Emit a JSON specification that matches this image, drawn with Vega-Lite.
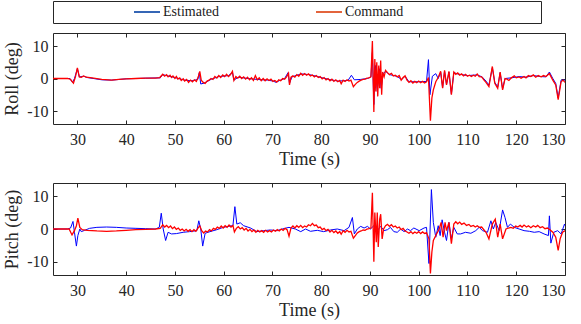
{
  "$schema": "https://vega.github.io/schema/vega-lite/v6.json",
  "padding": {"left": 3, "top": 0, "right": 0, "bottom": 0},
  "background": "white",
  "config": {
    "font": "Liberation Serif",
    "view": {"stroke": "#262626", "strokeWidth": 1},
    "axis": {"grid": false, "domain": false, "labelFont": "Liberation Serif", "titleFont": "Liberation Serif", "labelFontSize": 16, "titleFontSize": 18, "titleFontWeight": "normal", "labelColor": "#262626", "titleColor": "#262626", "tickColor": "#262626", "tickSize": -4, "minExtent": 0}
  },
  "datasets": {
    "legend": [{"s": "Estimated"}, {"s": "Command"}],
    "rollE": [{"t":25,"v":0},{"t":28.5,"v":0},{"t":29.0,"v":-1.2},{"t":29.4,"v":0},{"t":30.0,"v":3.0},{"t":30.4,"v":0.5},{"t":31.3,"v":0.7},{"t":32,"v":0.3},{"t":35,"v":-0.4},{"t":37,"v":-0.5},{"t":40,"v":-0.1},{"t":44,"v":0.1},{"t":47,"v":0.2},{"t":47.5,"v":1.2},{"t":48.5,"v":0.8},{"t":50,"v":0.3},{"t":52,"v":-0.5},{"t":53.5,"v":-0.7},{"t":54.7,"v":-0.3},{"t":55.0,"v":1.8},{"t":55.3,"v":-1.7},{"t":56.0,"v":-1.4},{"t":57.5,"v":-0.2},{"t":59,"v":0.6},{"t":61,"v":0.9},{"t":61.8,"v":1.9},{"t":62.1,"v":-0.5},{"t":63,"v":0.4},{"t":65,"v":0},{"t":67,"v":-0.3},{"t":69,"v":-0.5},{"t":70.2,"v":-0.8},{"t":70.7,"v":-1.2},{"t":71.5,"v":-0.6},{"t":72.5,"v":0},{"t":73.2,"v":1.8},{"t":73.5,"v":-1.5},{"t":74,"v":0.5},{"t":75,"v":1.0},{"t":76,"v":1.4},{"t":77.5,"v":1.2},{"t":79,"v":0.7},{"t":80.5,"v":0.1},{"t":82,"v":-0.4},{"t":83.5,"v":-0.8},{"t":84.5,"v":-0.7},{"t":85.5,"v":-0.6},{"t":86.2,"v":1.0},{"t":86.8,"v":-0.4},{"t":88,"v":-0.3},{"t":89.5,"v":0},{"t":90.2,"v":0.5},{"t":90.5,"v":8},{"t":90.8,"v":-8},{"t":91.1,"v":4},{"t":91.5,"v":-4},{"t":91.9,"v":3},{"t":92.3,"v":-3},{"t":92.7,"v":1.5},{"t":93.2,"v":2.2},{"t":94,"v":1.2},{"t":95.5,"v":0.7},{"t":96.5,"v":-0.3},{"t":97.2,"v":0.7},{"t":98,"v":-1},{"t":100,"v":-1},{"t":101.6,"v":-0.9},{"t":102.0,"v":5.8},{"t":102.3,"v":-5},{"t":102.8,"v":0.7},{"t":103.5,"v":1.5},{"t":104.0,"v":0},{"t":104.5,"v":2.0},{"t":104.9,"v":-2.8},{"t":105.3,"v":2.3},{"t":105.7,"v":-1.8},{"t":106.2,"v":2.0},{"t":106.7,"v":-4.8},{"t":107.2,"v":1.8},{"t":108,"v":1.4},{"t":110,"v":0.9},{"t":112,"v":1.1},{"t":113,"v":0.5},{"t":113.8,"v":-0.8},{"t":114.4,"v":-2},{"t":115.1,"v":3.3},{"t":115.6,"v":-1.2},{"t":116.2,"v":-2.6},{"t":116.7,"v":1.8},{"t":117.2,"v":-3.2},{"t":117.7,"v":0},{"t":119,"v":0.2},{"t":120.6,"v":0.6},{"t":122,"v":0.4},{"t":123.5,"v":0.9},{"t":125,"v":0.6},{"t":126.1,"v":0.5},{"t":126.8,"v":2.0},{"t":127.5,"v":0},{"t":128.1,"v":-1.5},{"t":128.6,"v":-6},{"t":129.2,"v":-0.5},{"t":130,"v":-0.5}],
    "rollC": [{"t":25,"v":0},{"t":28,"v":0},{"t":28.6,"v":-0.3},{"t":29.2,"v":-1.4},{"t":29.6,"v":0.5},{"t":30.0,"v":3.3},{"t":30.4,"v":0.5},{"t":30.8,"v":0.4},{"t":31.3,"v":0.8},{"t":31.8,"v":0.4},{"t":33,"v":0.2},{"t":35,"v":-0.3},{"t":37,"v":-0.5},{"t":38.5,"v":-0.3},{"t":40,"v":-0.1},{"t":42,"v":0},{"t":44,"v":0.1},{"t":46,"v":0.1},{"t":46.9,"v":0.3},{"t":47.5,"v":1.3},{"t":47.9,"v":0.7},{"t":48.3,"v":1.2},{"t":48.6,"v":0.5},{"t":49.0,"v":1.0},{"t":49.3,"v":0.3},{"t":49.6,"v":0.8},{"t":50.0,"v":0},{"t":50.3,"v":0.6},{"t":50.6,"v":-0.2},{"t":51.0,"v":0.2},{"t":51.3,"v":-0.6},{"t":51.7,"v":-0.1},{"t":52.0,"v":-0.8},{"t":52.4,"v":-0.3},{"t":52.8,"v":-1.2},{"t":53.2,"v":-0.5},{"t":53.6,"v":-1.0},{"t":54.0,"v":-0.4},{"t":54.4,"v":-0.9},{"t":54.8,"v":0.5},{"t":55.1,"v":2.2},{"t":55.4,"v":-0.5},{"t":55.8,"v":-1.2},{"t":56.2,"v":-1.5},{"t":56.6,"v":-0.8},{"t":57.0,"v":-0.5},{"t":57.4,"v":0},{"t":57.8,"v":-0.3},{"t":58.2,"v":0.6},{"t":58.6,"v":0.1},{"t":59.0,"v":0.9},{"t":59.4,"v":0.3},{"t":59.8,"v":1.1},{"t":60.2,"v":0.6},{"t":60.6,"v":1.3},{"t":61.0,"v":0.6},{"t":61.4,"v":1.2},{"t":61.8,"v":2.2},{"t":62.1,"v":-0.6},{"t":62.5,"v":0.6},{"t":62.9,"v":0.1},{"t":63.3,"v":0.7},{"t":63.7,"v":0},{"t":64.1,"v":0.5},{"t":64.5,"v":-0.2},{"t":64.9,"v":0.4},{"t":65.3,"v":-0.4},{"t":65.7,"v":0.2},{"t":66.1,"v":-0.6},{"t":66.5,"v":0.9},{"t":66.9,"v":-0.4},{"t":67.3,"v":0.2},{"t":67.7,"v":-0.7},{"t":68.1,"v":0},{"t":68.5,"v":-0.7},{"t":68.9,"v":-0.1},{"t":69.3,"v":-0.6},{"t":69.7,"v":-0.2},{"t":70.1,"v":-0.9},{"t":70.5,"v":-0.6},{"t":70.9,"v":-1.1},{"t":71.3,"v":-0.4},{"t":71.7,"v":-0.7},{"t":72.1,"v":0},{"t":72.5,"v":-0.2},{"t":72.9,"v":0.5},{"t":73.3,"v":1.6},{"t":73.5,"v":-2.0},{"t":73.8,"v":0.4},{"t":74.2,"v":0.8},{"t":74.6,"v":0.4},{"t":75.0,"v":1.2},{"t":75.4,"v":0.7},{"t":75.8,"v":1.6},{"t":76.2,"v":1.0},{"t":76.6,"v":1.5},{"t":77.0,"v":1.0},{"t":77.4,"v":1.4},{"t":77.8,"v":0.8},{"t":78.2,"v":1.1},{"t":78.6,"v":0.5},{"t":79.0,"v":0.9},{"t":79.4,"v":0.3},{"t":79.8,"v":0.6},{"t":80.2,"v":-0.1},{"t":80.6,"v":0.3},{"t":81.0,"v":-0.4},{"t":81.4,"v":0},{"t":81.8,"v":-0.7},{"t":82.2,"v":-0.2},{"t":82.6,"v":-0.9},{"t":83.0,"v":-0.4},{"t":83.4,"v":-1.0},{"t":83.8,"v":-0.6},{"t":84.1,"v":-1.6},{"t":84.5,"v":-0.5},{"t":84.9,"v":-0.9},{"t":85.3,"v":-0.4},{"t":85.7,"v":-0.8},{"t":86.1,"v":-0.5},{"t":86.6,"v":-2.5},{"t":87.0,"v":-1.8},{"t":87.4,"v":-1.2},{"t":87.8,"v":-0.8},{"t":88.2,"v":-0.5},{"t":88.6,"v":-0.3},{"t":89.0,"v":-0.2},{"t":89.4,"v":0.1},{"t":89.8,"v":0.2},{"t":90.2,"v":0.5},{"t":90.5,"v":11.5},{"t":90.8,"v":-10.3},{"t":91.0,"v":6},{"t":91.2,"v":-4},{"t":91.4,"v":5},{"t":91.6,"v":-5.5},{"t":91.8,"v":4},{"t":92.0,"v":-3},{"t":92.2,"v":5.5},{"t":92.4,"v":-5},{"t":92.6,"v":2},{"t":92.9,"v":0.5},{"t":93.2,"v":2.5},{"t":93.6,"v":1.8},{"t":94.0,"v":1.2},{"t":94.4,"v":1.6},{"t":94.8,"v":0.8},{"t":95.2,"v":1.0},{"t":95.6,"v":0.5},{"t":96.0,"v":0.9},{"t":96.4,"v":-0.5},{"t":96.8,"v":0.3},{"t":97.2,"v":0.8},{"t":97.6,"v":-0.5},{"t":98.0,"v":-1.2},{"t":98.4,"v":-0.7},{"t":98.8,"v":-1.4},{"t":99.2,"v":-0.9},{"t":99.6,"v":-1.3},{"t":100.0,"v":-0.8},{"t":100.4,"v":-1.3},{"t":100.8,"v":-0.9},{"t":101.2,"v":-1.4},{"t":101.6,"v":-1.0},{"t":102.0,"v":0.3},{"t":102.4,"v":-13},{"t":102.7,"v":-6},{"t":103.0,"v":-3.5},{"t":103.5,"v":-1},{"t":104.0,"v":0.3},{"t":104.5,"v":2.2},{"t":104.9,"v":-3},{"t":105.3,"v":2.5},{"t":105.7,"v":-2},{"t":106.2,"v":2.2},{"t":106.7,"v":-5},{"t":107.2,"v":2},{"t":107.6,"v":1.3},{"t":108.0,"v":1.7},{"t":108.4,"v":1.0},{"t":108.8,"v":1.4},{"t":109.2,"v":0.8},{"t":109.6,"v":1.3},{"t":110.0,"v":0.7},{"t":110.4,"v":1.0},{"t":110.8,"v":0.6},{"t":111.2,"v":1.0},{"t":111.6,"v":0.7},{"t":112.0,"v":1.4},{"t":112.4,"v":0.6},{"t":112.9,"v":0.5},{"t":113.4,"v":-0.5},{"t":113.8,"v":-1.2},{"t":114.4,"v":-2.5},{"t":115.1,"v":3.7},{"t":115.6,"v":-1.5},{"t":116.2,"v":-3},{"t":116.7,"v":2},{"t":117.2,"v":-3.5},{"t":117.7,"v":0},{"t":118.1,"v":-0.2},{"t":118.5,"v":-0.6},{"t":119.0,"v":0.2},{"t":119.6,"v":0.8},{"t":120.0,"v":0.2},{"t":120.6,"v":0.5},{"t":121.0,"v":0.1},{"t":121.6,"v":0.6},{"t":122.0,"v":0.2},{"t":122.5,"v":0.9},{"t":123.0,"v":0.6},{"t":123.5,"v":1.1},{"t":124.0,"v":0.4},{"t":124.5,"v":0.9},{"t":125.1,"v":0.5},{"t":125.6,"v":0.9},{"t":126.1,"v":0.6},{"t":126.8,"v":1.5},{"t":127.5,"v":-0.5},{"t":128.1,"v":-2},{"t":128.6,"v":-6.5},{"t":129.2,"v":-1},{"t":129.6,"v":-0.5},{"t":130,"v":-1.2}],
    "pitchE": [{"t":25,"v":0},{"t":28,"v":0},{"t":28.6,"v":0.3},{"t":29.1,"v":2.3},{"t":29.4,"v":-1},{"t":29.8,"v":-5.2},{"t":30.1,"v":-2},{"t":30.5,"v":0},{"t":30.8,"v":-0.8},{"t":31.5,"v":-0.4},{"t":32.5,"v":0.2},{"t":34,"v":0.5},{"t":36,"v":0.6},{"t":38,"v":0.5},{"t":40,"v":0.3},{"t":42,"v":0.2},{"t":44,"v":0.1},{"t":46,"v":0},{"t":46.8,"v":0.5},{"t":47.2,"v":4.8},{"t":47.6,"v":0},{"t":48.1,"v":-3.5},{"t":48.6,"v":-1},{"t":49.3,"v":-1.5},{"t":50.3,"v":-1.4},{"t":51.7,"v":-1.0},{"t":53,"v":-0.8},{"t":54.5,"v":-0.5},{"t":54.9,"v":2.5},{"t":55.3,"v":0},{"t":55.7,"v":-5.2},{"t":56.2,"v":-1.3},{"t":57.2,"v":-0.8},{"t":58.6,"v":-0.2},{"t":59.9,"v":0.5},{"t":61.3,"v":0.9},{"t":61.9,"v":1.0},{"t":62.3,"v":6.8},{"t":62.7,"v":1.5},{"t":63.4,"v":1.9},{"t":64.1,"v":1.0},{"t":65.5,"v":0.3},{"t":66.8,"v":-0.8},{"t":68.2,"v":-0.5},{"t":69.6,"v":-0.3},{"t":71,"v":-0.5},{"t":72,"v":0},{"t":73.4,"v":0.5},{"t":74.7,"v":0},{"t":75.8,"v":-0.8},{"t":76.8,"v":0},{"t":77.8,"v":-0.7},{"t":79.2,"v":-0.4},{"t":80.5,"v":-0.8},{"t":81.9,"v":-0.3},{"t":83.3,"v":0},{"t":84.7,"v":-0.5},{"t":85.7,"v":0.5},{"t":86.4,"v":3.5},{"t":86.8,"v":-1.5},{"t":87.4,"v":0},{"t":88.1,"v":0.8},{"t":88.8,"v":0.3},{"t":89.5,"v":0.8},{"t":90.1,"v":0},{"t":90.8,"v":1.0},{"t":91.5,"v":-0.5},{"t":92.2,"v":0.8},{"t":92.9,"v":-0.5},{"t":93.6,"v":-0.2},{"t":94.2,"v":0.5},{"t":94.9,"v":-0.8},{"t":95.6,"v":-1.0},{"t":96.3,"v":0},{"t":97,"v":-0.8},{"t":97.7,"v":0},{"t":98.3,"v":-0.5},{"t":99,"v":0.3},{"t":100.1,"v":-0.5},{"t":101.1,"v":0.3},{"t":101.6,"v":0.5},{"t":102.1,"v":-10.5},{"t":102.6,"v":12},{"t":103,"v":2},{"t":103.5,"v":-2.5},{"t":104,"v":1},{"t":104.4,"v":-2},{"t":104.8,"v":2.8},{"t":105.3,"v":-1},{"t":105.7,"v":-3.5},{"t":106.2,"v":2},{"t":106.7,"v":-3},{"t":107.2,"v":0.5},{"t":107.9,"v":-1.5},{"t":108.6,"v":-1.5},{"t":109.6,"v":-1.0},{"t":110.7,"v":-1.3},{"t":111.7,"v":-0.5},{"t":112.4,"v":0.5},{"t":113.1,"v":-0.5},{"t":114.1,"v":-1},{"t":114.8,"v":2.5},{"t":115.3,"v":0},{"t":115.8,"v":2},{"t":116.5,"v":-0.5},{"t":117.2,"v":5.8},{"t":117.7,"v":3.5},{"t":118.2,"v":0.5},{"t":118.8,"v":1.5},{"t":119.6,"v":0.5},{"t":120.6,"v":0},{"t":121.6,"v":-0.5},{"t":122.7,"v":-0.7},{"t":123.7,"v":-1},{"t":124.7,"v":-0.8},{"t":125.7,"v":-1.5},{"t":126.6,"v":-2},{"t":126.8,"v":4},{"t":127.1,"v":-4.3},{"t":127.7,"v":-1},{"t":128.5,"v":-0.5},{"t":129.2,"v":-1.5},{"t":129.9,"v":1.5},{"t":130,"v":1.0}],
    "pitchC": [{"t":25,"v":0},{"t":28.3,"v":0},{"t":28.9,"v":-1.8},{"t":29.4,"v":-0.5},{"t":29.8,"v":1.0},{"t":30.1,"v":3.3},{"t":30.5,"v":0.5},{"t":31,"v":-0.2},{"t":32,"v":-0.4},{"t":34,"v":-0.6},{"t":36,"v":-0.7},{"t":38,"v":-0.6},{"t":40,"v":-0.4},{"t":42,"v":-0.2},{"t":44,"v":-0.1},{"t":46,"v":0},{"t":47,"v":0.2},{"t":47.5,"v":1.3},{"t":47.9,"v":0.6},{"t":48.3,"v":1.1},{"t":48.7,"v":0.4},{"t":49.1,"v":0.9},{"t":49.5,"v":0.1},{"t":49.9,"v":0.6},{"t":50.3,"v":-0.1},{"t":50.7,"v":0.3},{"t":51.1,"v":-0.4},{"t":51.5,"v":0},{"t":51.9,"v":-0.6},{"t":52.3,"v":-0.1},{"t":52.7,"v":-0.7},{"t":53.1,"v":-0.2},{"t":53.5,"v":-0.8},{"t":53.9,"v":-0.2},{"t":54.3,"v":-0.7},{"t":54.7,"v":0.2},{"t":55.1,"v":1.0},{"t":55.5,"v":-0.5},{"t":55.9,"v":-1.2},{"t":56.3,"v":-0.6},{"t":56.7,"v":-0.9},{"t":57.1,"v":-0.2},{"t":57.5,"v":-0.6},{"t":57.9,"v":0.2},{"t":58.3,"v":-0.1},{"t":58.7,"v":0.6},{"t":59.1,"v":0.2},{"t":59.5,"v":0.9},{"t":59.9,"v":0.3},{"t":60.3,"v":1.0},{"t":60.7,"v":0.5},{"t":61.1,"v":1.2},{"t":61.5,"v":0.6},{"t":61.9,"v":1.1},{"t":62.2,"v":-0.9},{"t":62.6,"v":0.2},{"t":63.0,"v":0.7},{"t":63.4,"v":0},{"t":63.8,"v":0.4},{"t":64.2,"v":-0.3},{"t":64.6,"v":0.2},{"t":65.0,"v":-0.6},{"t":65.4,"v":-0.1},{"t":65.8,"v":-0.8},{"t":66.2,"v":-0.3},{"t":66.6,"v":-1.0},{"t":67.0,"v":-0.4},{"t":67.4,"v":-0.9},{"t":67.8,"v":-0.5},{"t":68.2,"v":-1.0},{"t":68.6,"v":-0.4},{"t":69.0,"v":-0.9},{"t":69.4,"v":-0.5},{"t":69.8,"v":-0.9},{"t":70.2,"v":-0.3},{"t":70.6,"v":-0.7},{"t":71.0,"v":-0.2},{"t":71.4,"v":-0.6},{"t":71.8,"v":0},{"t":72.2,"v":-0.4},{"t":72.6,"v":0.2},{"t":73.0,"v":-0.2},{"t":73.4,"v":-2.2},{"t":73.8,"v":0.3},{"t":74.2,"v":0.9},{"t":74.6,"v":0.3},{"t":75.0,"v":1.0},{"t":75.4,"v":0.5},{"t":75.8,"v":1.1},{"t":76.2,"v":0.4},{"t":76.6,"v":0.9},{"t":77.0,"v":0.6},{"t":77.4,"v":1.3},{"t":77.8,"v":1.0},{"t":78.2,"v":1.7},{"t":78.6,"v":1.0},{"t":79.0,"v":1.2},{"t":79.4,"v":0.4},{"t":79.8,"v":0.6},{"t":80.2,"v":-0.2},{"t":80.6,"v":0.2},{"t":81.0,"v":-0.5},{"t":81.4,"v":-0.1},{"t":81.8,"v":-0.9},{"t":82.2,"v":-0.4},{"t":82.6,"v":-1.1},{"t":83.0,"v":-0.6},{"t":83.4,"v":-1.3},{"t":83.8,"v":-0.8},{"t":84.1,"v":-1.6},{"t":84.5,"v":-0.5},{"t":84.9,"v":-1.0},{"t":85.3,"v":-0.4},{"t":85.7,"v":-0.9},{"t":86.1,"v":-0.7},{"t":86.6,"v":-2.8},{"t":87.0,"v":-2.0},{"t":87.4,"v":-1.2},{"t":87.8,"v":-0.8},{"t":88.2,"v":-0.6},{"t":88.6,"v":-0.3},{"t":89.0,"v":-0.4},{"t":89.4,"v":0},{"t":89.8,"v":0.1},{"t":90.2,"v":0.3},{"t":90.5,"v":11},{"t":90.8,"v":-10},{"t":91.0,"v":5},{"t":91.3,"v":-4},{"t":91.5,"v":5},{"t":91.7,"v":-5.5},{"t":92.0,"v":3},{"t":92.2,"v":4.5},{"t":92.5,"v":-3},{"t":92.8,"v":0},{"t":93.2,"v":1.0},{"t":93.6,"v":1.4},{"t":94.0,"v":0.8},{"t":94.4,"v":1.3},{"t":94.8,"v":0.6},{"t":95.2,"v":0.9},{"t":95.6,"v":0.3},{"t":96.0,"v":0.6},{"t":96.4,"v":-0.2},{"t":96.8,"v":0.2},{"t":97.2,"v":-0.6},{"t":97.6,"v":-0.9},{"t":98.0,"v":-1.3},{"t":98.4,"v":-0.8},{"t":98.8,"v":-1.4},{"t":99.2,"v":-0.9},{"t":99.6,"v":-1.3},{"t":100.0,"v":-0.8},{"t":100.4,"v":-1.4},{"t":100.8,"v":-0.9},{"t":101.2,"v":-1.4},{"t":101.6,"v":-1.1},{"t":102.1,"v":-3},{"t":102.4,"v":-13.5},{"t":102.7,"v":-7},{"t":103.0,"v":-3.5},{"t":103.5,"v":-2},{"t":104.2,"v":0},{"t":104.6,"v":2},{"t":105.0,"v":-2.5},{"t":105.4,"v":2},{"t":105.7,"v":-0.5},{"t":106.2,"v":2},{"t":106.7,"v":-4.5},{"t":107.2,"v":1.5},{"t":107.6,"v":2.2},{"t":108.0,"v":1.6},{"t":108.4,"v":2.1},{"t":108.8,"v":1.4},{"t":109.3,"v":1.8},{"t":109.8,"v":1.1},{"t":110.3,"v":1.4},{"t":110.7,"v":0.8},{"t":111.2,"v":1.1},{"t":111.6,"v":0.6},{"t":112.0,"v":1.0},{"t":112.4,"v":0.5},{"t":112.9,"v":0.6},{"t":113.4,"v":-0.3},{"t":113.8,"v":-1},{"t":114.4,"v":-3},{"t":115.1,"v":1.5},{"t":115.7,"v":3},{"t":116.2,"v":-2.5},{"t":116.7,"v":1.5},{"t":117.2,"v":-3},{"t":117.9,"v":0},{"t":118.4,"v":0.3},{"t":118.9,"v":0.5},{"t":119.4,"v":0.2},{"t":119.9,"v":0.9},{"t":120.3,"v":0.6},{"t":120.8,"v":1.1},{"t":121.2,"v":0.6},{"t":121.6,"v":1.2},{"t":122.1,"v":0.6},{"t":122.5,"v":1.0},{"t":123.0,"v":0.4},{"t":123.5,"v":1.0},{"t":124.0,"v":0.6},{"t":124.4,"v":1.1},{"t":124.9,"v":0.4},{"t":125.4,"v":0.7},{"t":125.9,"v":0.1},{"t":126.4,"v":0.3},{"t":126.9,"v":-0.2},{"t":127.5,"v":-1},{"t":128.1,"v":-2.5},{"t":128.6,"v":-6.5},{"t":129.0,"v":-3},{"t":129.5,"v":-1},{"t":130,"v":-0.5}]
  },
  "spacing": 8,
  "vconcat": [
    {
      "width": 488,
      "height": 22,
      "data": {"name": "legend"},
      "encoding": {
        "x": {"field": "s", "type": "nominal", "scale": {"type": "point", "domain": ["Estimated", "Command"], "range": [94, 276], "padding": 0}, "axis": null},
        "y": {"datum": 0, "type": "quantitative", "scale": {"domain": [-1, 1]}, "axis": {"labels": false, "ticks": false, "domain": false, "grid": false, "title": null, "minExtent": 45, "maxExtent": 45}}
      },
      "layer": [
        {"mark": {"type": "point", "shape": "M-1,0L1,0", "size": 676, "filled": false, "strokeWidth": 2, "opacity": 1},
         "encoding": {"color": {"field": "s", "type": "nominal", "scale": {"domain": ["Estimated", "Command"], "range": ["#3566b5", "#e3643c"]}, "legend": null}}},
        {"mark": {"type": "text", "align": "left", "baseline": "middle", "dx": 16, "fontSize": 14, "font": "Liberation Serif", "color": "#1a1a1a"},
         "encoding": {"text": {"field": "s"}}}
      ]
    },
    {
      "spacing": 13,
      "vconcat": [
        {
          "width": 512,
          "height": 91,
          "layer": [
            {"data": {"name": "rollE"}, "mark": {"type": "line", "color": "#0000ff", "strokeWidth": 1, "clip": true},
             "encoding": {
               "x": {"field": "t", "type": "quantitative", "scale": {"domain": [25, 130], "nice": false, "zero": false}, "axis": {"orient": "bottom", "values": [30,40,50,60,70,80,90,100,110,120,130], "title": "Time (s)", "labelPadding": 11, "titlePadding": 3}},
               "y": {"field": "v", "type": "quantitative", "scale": {"domain": [-14, 14], "nice": false, "zero": false}, "axis": {"orient": "left", "values": [-10, 0, 10], "labelExpr": "datum.value", "title": "Roll (deg)", "labelPadding": 9, "titlePadding": 5}}
             }},
            {"data": {"name": "rollC"}, "mark": {"type": "line", "color": "#ff0000", "strokeWidth": 1.3, "clip": true},
             "encoding": {
               "x": {"field": "t", "type": "quantitative", "scale": {"domain": [25, 130], "nice": false, "zero": false}, "axis": {"orient": "top", "values": [30,40,50,60,70,80,90,100,110,120,130], "labels": false, "title": null}},
               "y": {"field": "v", "type": "quantitative", "scale": {"domain": [-14, 14], "nice": false, "zero": false}, "axis": {"orient": "right", "values": [-10, 0, 10], "labels": false, "title": null}}
             }}
          ],
          "resolve": {"axis": {"x": "independent", "y": "independent"}}
        },
        {
          "width": 512,
          "height": 92,
          "layer": [
            {"data": {"name": "pitchE"}, "mark": {"type": "line", "color": "#0000ff", "strokeWidth": 1, "clip": true},
             "encoding": {
               "x": {"field": "t", "type": "quantitative", "scale": {"domain": [25, 130], "nice": false, "zero": false}, "axis": {"orient": "bottom", "values": [30,40,50,60,70,80,90,100,110,120,130], "title": "Time (s)", "labelPadding": 11, "titlePadding": 3}},
               "y": {"field": "v", "type": "quantitative", "scale": {"domain": [-14, 14], "nice": false, "zero": false}, "axis": {"orient": "left", "values": [-10, 0, 10], "labelExpr": "datum.value", "title": "Pitch (deg)", "labelPadding": 9, "titlePadding": 5}}
             }},
            {"data": {"name": "pitchC"}, "mark": {"type": "line", "color": "#ff0000", "strokeWidth": 1.3, "clip": true},
             "encoding": {
               "x": {"field": "t", "type": "quantitative", "scale": {"domain": [25, 130], "nice": false, "zero": false}, "axis": {"orient": "top", "values": [30,40,50,60,70,80,90,100,110,120,130], "labels": false, "title": null}},
               "y": {"field": "v", "type": "quantitative", "scale": {"domain": [-14, 14], "nice": false, "zero": false}, "axis": {"orient": "right", "values": [-10, 0, 10], "labels": false, "title": null}}
             }}
          ],
          "resolve": {"axis": {"x": "independent", "y": "independent"}}
        }
      ]
    }
  ]
}
